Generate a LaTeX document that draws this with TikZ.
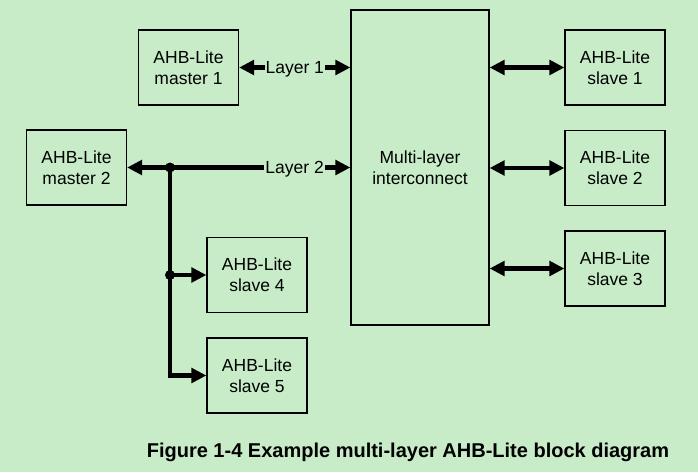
\documentclass[tikz,border=0pt]{standalone}
\usepackage{fontspec}
\setmainfont{Liberation Sans}
\usetikzlibrary{arrows.meta}
\definecolor{bggreen}{RGB}{199,236,199}

\begin{document}
\begin{tikzpicture}[x=1pt, y=-1pt,
	box/.style={draw, line width=1.2pt, fill=bggreen, align=center,
		minimum width=100pt, minimum height=75pt, inner sep=0pt,
		font=\fontsize{17.5}{21}\selectfont},
	bus/.style={line width=4.2pt},
	lbl/.style={fill=bggreen, inner sep=1pt, yshift=-1.5pt, font=\fontsize{17.5}{21}\selectfont},
	>={Triangle[length=15pt, width=14.5pt]}]

	\fill[bggreen] (0,0) rectangle (698,472);

	% masters and slaves
	\node[box] (m1) at (188.5,67.5) {AHB-Lite\\master 1};
	\node[box] (m2) at (76.5,167.5) {AHB-Lite\\master 2};
	\node[box, minimum width=138pt, minimum height=315pt] (mli) at (420,167.5) {Multi-layer\\interconnect};
	\node[box] (s1) at (615,67.5) {AHB-Lite\\slave 1};
	\node[box] (s2) at (615,168) {AHB-Lite\\slave 2};
	\node[box] (s3) at (615,268.5) {AHB-Lite\\slave 3};
	\node[box] (s4) at (257,275) {AHB-Lite\\slave 4};
	\node[box] (s5) at (257,375.5) {AHB-Lite\\slave 5};

	% layers
	\draw[bus,<->] (m1.east) -- node[lbl] (l1) {Layer 1} (m1.east -| mli.west);
	\draw[bus,<->] (m2.east) -- node[lbl, pos=0.75] (l2) {Layer 2} (m2.east -| mli.west);
	\coordinate (j1) at (170,167.5);
	\coordinate (j2) at (170,275);
	\draw[bus,->] (j1) -- (j1 |- s5.west) -- (s5.west);
	\draw[bus,->] (j2) -- (s4.west);
	\fill (j1) circle [radius=5pt];
	\fill (j2) circle [radius=5pt];

	\foreach \s in {s1,s2,s3}{
		\draw[bus,<->] (\s.west -| mli.east) -- (\s.west);
	}

	\node[font=\fontsize{20}{24}\selectfont\bfseries] (cap) at (408,452) {Figure 1-4 Example multi-layer AHB-Lite block diagram};

\end{tikzpicture}
\end{document}
